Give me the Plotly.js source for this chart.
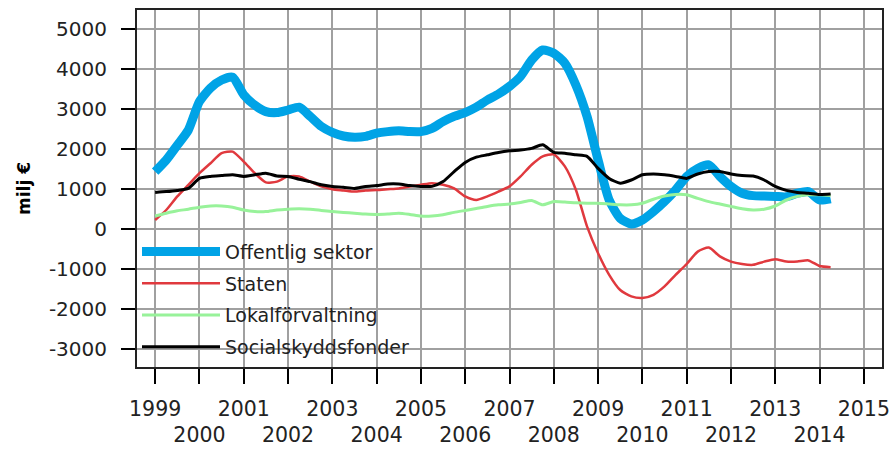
<!DOCTYPE html>
<html>
<head>
<meta charset="utf-8">
<script src="https://cdn.plot.ly/plotly-3.0.1.min.js"></script>
<style>html,body{margin:0;padding:0;background:#fff;}#chart{width:893px;height:452px;}</style>
</head>
<body>
<div id="chart"></div>
<script>
// Quarterly observations 1999Q1 .. 2014Q2 (milj €)
const quarters = [
 "1999Q1","1999Q2","1999Q3","1999Q4","2000Q1","2000Q2","2000Q3","2000Q4",
 "2001Q1","2001Q2","2001Q3","2001Q4","2002Q1","2002Q2","2002Q3","2002Q4",
 "2003Q1","2003Q2","2003Q3","2003Q4","2004Q1","2004Q2","2004Q3","2004Q4",
 "2005Q1","2005Q2","2005Q3","2005Q4","2006Q1","2006Q2","2006Q3","2006Q4",
 "2007Q1","2007Q2","2007Q3","2007Q4","2008Q1","2008Q2","2008Q3","2008Q4",
 "2009Q1","2009Q2","2009Q3","2009Q4","2010Q1","2010Q2","2010Q3","2010Q4",
 "2011Q1","2011Q2","2011Q3","2011Q4","2012Q1","2012Q2","2012Q3","2012Q4",
 "2013Q1","2013Q2","2013Q3","2013Q4","2014Q1","2014Q2"
];
const offentligSektor = [
 1440,1730,2100,2480, 3190,3530,3730,3800, 3360,3100,2940,2915, 2980,3050,2820,2570,
 2420,2330,2300,2320, 2400,2440,2460,2440, 2440,2520,2690,2820, 2915,3050,3230,3380,
 3570,3820,4230,4480, 4400,4150,3600,2820, 1730,730,270,130, 230,440,690,980,
 1320,1520,1610,1320, 1070,900,840,830, 820,810,900,940, 730,760
];
const staten = [
 230,480,820,1110, 1400,1650,1900,1940, 1690,1400,1170,1190, 1320,1320,1190,1070,
 1000,970,940,970, 980,1000,1020,1070, 1110,1150,1110,1020, 820,730,820,940,
 1070,1320,1610,1820, 1870,1570,980,70, -600,-1140,-1520,-1680, -1720,-1640,-1430,-1140,
 -870,-560,-460,-680, -810,-870,-890,-810, -750,-810,-810,-780, -920,-950
];
const lokalforvaltning = [
 330,400,460,500, 550,580,580,550, 480,440,440,480, 500,510,500,470,
 440,420,400,380, 370,380,400,370, 330,330,360,420, 470,520,570,610,
 630,670,720,610, 690,680,660,650, 650,630,610,610, 650,750,830,870,
 860,770,690,630, 570,510,480,500, 580,730,820,860, 860,840
];
const socialskyddsfonder = [
 920,940,970,1020, 1270,1320,1340,1360, 1320,1360,1400,1330, 1320,1250,1190,1110,
 1070,1050,1020,1070, 1090,1130,1130,1090, 1070,1070,1190,1440, 1670,1800,1860,1920,
 1960,1980,2020,2110, 1920,1900,1860,1820, 1520,1270,1150,1230, 1360,1380,1360,1320,
 1270,1380,1440,1440, 1380,1340,1330,1230, 1070,970,920,900, 870,880
];
const seriesNames = ["Offentlig sektor","Staten","Lokalförvaltning","Socialskyddsfonder"];
const years = [1999,2000,2001,2002,2003,2004,2005,2006,2007,2008,2009,2010,2011,2012,2013,2014,2015];
const yTicks = [-3000,-2000,-1000,0,1000,2000,3000,4000,5000];

const xPos = quarters.map(q => parseInt(q.slice(0,4)) + (parseInt(q.slice(5)) - 1) / 4);
const yearText = years.map(y => (y % 2 === 1) ? String(y) : "<br>" + y);
const yTickText = yTicks.map(v => String(v));

const colors = ["#00a3e6","#e0393e","#98f29a","#000000"];
const widths = [9, 2.5, 3, 3];
const values = [offentligSektor, staten, lokalforvaltning, socialskyddsfonder];

const traces = values.map((v, i) => ({
  x: xPos, y: v, type: "scatter", mode: "lines", name: seriesNames[i],
  legendgroup: "g" + i,
  line: {color: colors[i], width: widths[i], shape: "spline", smoothing: 0.6}
}));

const fam = "DejaVu Sans, Verdana, sans-serif";
const font = {family: fam, size: 20, color: "#222"};

const layout = {
  width: 893, height: 452,
  margin: {l: 137, r: 11, t: 10, b: 85},
  paper_bgcolor: "#fff", plot_bgcolor: "#fff",
  showlegend: true,
  legend: {
    x: 0.0, y: 0.376, xanchor: "left", yanchor: "top",
    bgcolor: "rgba(0,0,0,0)", borderwidth: 0,
    font: {family: fam, size: 19, color: "#222"},
    itemwidth: 78, tracegroupgap: 4, traceorder: "grouped"
  },
  xaxis: {
    range: [1998.59, 2015.41], tickmode: "array", tickvals: years, ticktext: yearText,
    tickangle: 0, ticklabelstandoff: 7,
    ticks: "outside", ticklen: 15, tickwidth: 2, tickcolor: "#000",
    showline: true, linecolor: "#222", linewidth: 2, mirror: true,
    showgrid: true, gridcolor: "#a0a0a0", gridwidth: 2, zeroline: false,
    tickfont: {family: fam, size: 20.5, color: "#222"}, fixedrange: true
  },
  yaxis: {
    range: [-3445, 5480], tickmode: "array", tickvals: yTicks, ticktext: yTickText,
    ticks: "outside", ticklen: 14, tickwidth: 2, tickcolor: "#000",
    showline: true, linecolor: "#222", linewidth: 2, mirror: true,
    showgrid: true, gridcolor: "#a0a0a0", gridwidth: 2, zeroline: false,
    tickfont: font, ticklabelstandoff: 10,
    title: {text: "milj €", font: {family: fam, size: 17, color: "#000", weight: "bold"}, standoff: 14},
    fixedrange: true
  }
};

Plotly.newPlot("chart", traces, layout, {displayModeBar: false, staticPlot: true});
</script>
</body>
</html>
